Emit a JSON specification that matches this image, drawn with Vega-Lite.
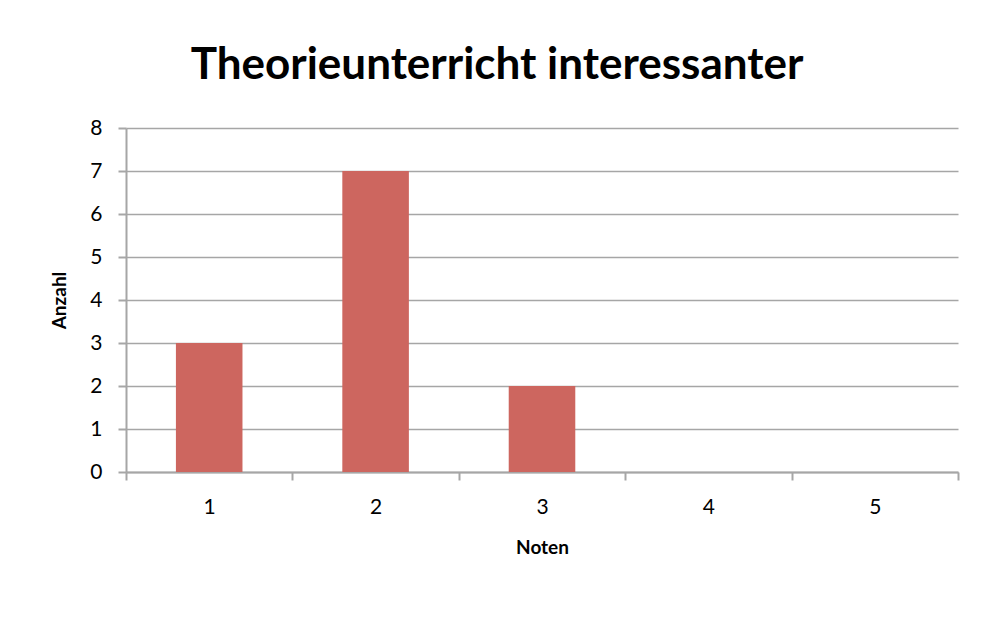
{
  "$schema": "https://vega.github.io/schema/vega-lite/v6.json",
  "width": 832,
  "height": 344,
  "autosize": "none",
  "padding": {"left": 126, "top": 128, "right": 24, "bottom": 155},
  "background": "white",
  "title": {
    "text": "Theorieunterricht interessanter",
    "font": "Lato",
    "fontSize": 44,
    "fontWeight": "bold",
    "color": "black",
    "anchor": "middle",
    "dx": -45,
    "offset": 29
  },
  "data": {
    "values": [
      {"Note": "1", "Anzahl": 3},
      {"Note": "2", "Anzahl": 7},
      {"Note": "3", "Anzahl": 2},
      {"Note": "4", "Anzahl": 0},
      {"Note": "5", "Anzahl": 0}
    ]
  },
  "mark": {"type": "bar", "color": "#CD665F", "width": {"band": 0.4}},
  "encoding": {
    "x": {
      "field": "Note",
      "type": "nominal",
      "sort": null,
      "title": "Noten",
      "scale": {"paddingInner": 0, "paddingOuter": 0},
      "axis": {
        "labelAngle": 0,
        "tickBand": "extent",
        "tickSize": 8,
        "labelPadding": 16,
        "titlePadding": 21
      }
    },
    "y": {
      "field": "Anzahl",
      "type": "quantitative",
      "title": "Anzahl",
      "scale": {"domain": [0, 8]},
      "axis": {
        "values": [0, 1, 2, 3, 4, 5, 6, 7, 8],
        "tickSize": 8,
        "labelPadding": 16,
        "titlePadding": 20,
        "grid": true
      }
    }
  },
  "config": {
    "view": {"stroke": null},
    "axis": {
      "labelFont": "Lato",
      "labelFontSize": 21,
      "labelColor": "black",
      "titleFont": "Lato",
      "titleFontSize": 19,
      "titleFontWeight": "bold",
      "titleColor": "black",
      "domainColor": "#a6a6a6",
      "domainWidth": 2,
      "tickColor": "#a6a6a6",
      "tickWidth": 2,
      "gridColor": "#a6a6a6",
      "gridWidth": 1.5
    }
  }
}
